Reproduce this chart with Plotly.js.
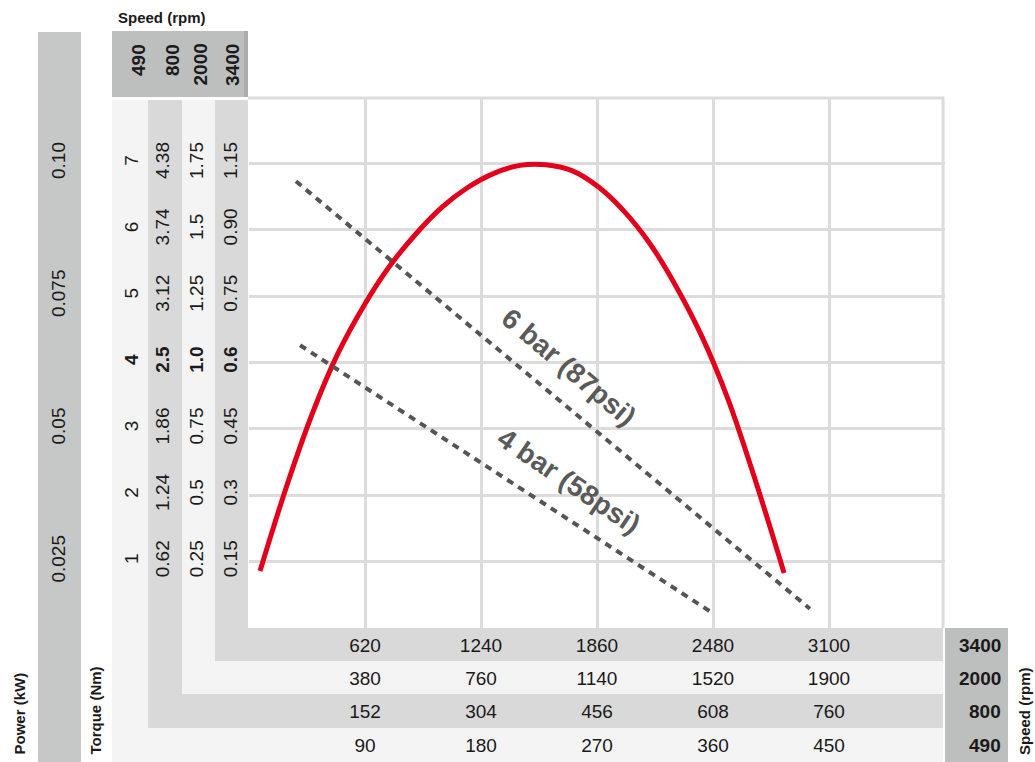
<!DOCTYPE html>
<html><head><meta charset="utf-8">
<script src="https://cdn.plot.ly/plotly-3.0.1.min.js"></script>
<style>html,body{margin:0;padding:0;background:#fff}#chart{width:1035px;height:762px}</style>
</head><body><div id="chart"></div>
<script>
// ---- data ----
const xTickVals = [620, 1240, 1860, 2480, 3100];
const row3400 = ['620', '1240', '1860', '2480', '3100'];
const row2000 = ['380', '760', '1140', '1520', '1900'];
const row800 = ['152', '304', '456', '608', '760'];
const row490 = ['90', '180', '270', '360', '450'];
const yTickVals = [1, 2, 3, 4, 5, 6, 7];
const col490 = ['1', '2', '3', '<b>4</b>', '5', '6', '7'];
const col800 = ['0.62', '1.24', '1.86', '<b>2.5</b>', '3.12', '3.74', '4.38'];
const col2000 = ['0.25', '0.5', '0.75', '<b>1.0</b>', '1.25', '1.5', '1.75'];
const col3400 = ['0.15', '0.3', '0.45', '<b>0.6</b>', '0.75', '0.90', '1.15'];
const powerTickVals = [1, 3, 5, 7];
const powerLabels = ['0.025', '0.05', '0.075', '0.10'];
const speeds = ['490', '800', '2000', '3400'];
const curveX = [59, 198, 337, 476, 615, 754, 893, 1032, 1171, 1309, 1448,
                1587, 1726, 1865, 2004, 2143, 2282, 2421, 2560, 2699, 2860];
const curveY = [0.86, 2.11, 3.22, 4.14, 4.86, 5.46, 5.94, 6.34, 6.64, 6.85, 6.97,
                6.98, 6.89, 6.65, 6.28, 5.79, 5.15, 4.39, 3.45, 2.29, 0.83];
const bar6X = [251, 2998];
const bar6Y = [6.73, 0.29];
const bar4X = [273, 2475];
const bar4Y = [4.26, 0.23];
const bar6Label = '6 bar (87psi)';
const bar4Label = '4 bar (58psi)';

// ---- layout helpers ----
const W = 1035, H = 762;
const px = v => v / W;
const py = v => 1 - v / H;
const FONT = 'Arial, "Liberation Sans", Helvetica, sans-serif';
const TXT = '#1a1a1a';
const LIGHT = '#f4f4f4', MID = '#d9d9d9', DARK = '#bdbebe', GRID = '#dcdcdc';

function rect(x0, y0, x1, y1, color) {
  return {type: 'rect', xref: 'paper', yref: 'paper', x0: px(x0), x1: px(x1), y0: py(y1), y1: py(y0),
          fillcolor: color, line: {width: 0}, layer: 'below'};
}
function hline(x0, x1, y, color, w) {
  return {type: 'line', xref: 'paper', yref: 'paper', x0: px(x0), x1: px(x1), y0: py(y), y1: py(y),
          line: {color: color, width: w}, layer: 'below'};
}
function vline(x, y0, y1, color, w) {
  return {type: 'line', xref: 'paper', yref: 'paper', x0: px(x), x1: px(x), y0: py(y0), y1: py(y1),
          line: {color: color, width: w}, layer: 'below'};
}

const xDomain = [px(249), px(945)];
const yDomain = [py(628), py(97)];
const xRange = [0, 3720];
const yRange = [0, 8];
const tickFont = {family: FONT, size: 19, color: TXT};

function xAx(ticktext, extra) {
  return Object.assign({domain: xDomain, range: xRange, tickvals: xTickVals, ticktext: ticktext,
    ticks: '', showline: false, zeroline: false, showgrid: false, tickfont: tickFont,
    ticklabelstandoff: 4, fixedrange: true}, extra);
}
function yAx(vals, ticktext, pos, extra) {
  return Object.assign({domain: yDomain, range: yRange, tickvals: vals, ticktext: ticktext,
    ticks: '', showline: false, zeroline: false, showgrid: false, tickfont: tickFont, tickangle: -90,
    anchor: 'free', position: px(pos), side: 'left', fixedrange: true}, extra);
}

const lineTrace = (x, y, xa, ya, line) => ({x: x, y: y, type: 'scatter', mode: 'lines', xaxis: xa, yaxis: ya,
  line: line, hoverinfo: 'skip', showlegend: false});
const dash = {color: '#555555', width: 4, dash: '7px,6px'};

const traces = [
  lineTrace(curveX, curveY, 'x', 'y', {color: '#e2001a', width: 5, shape: 'spline', smoothing: 1}),
  lineTrace(bar6X, bar6Y, 'x2', 'y2', dash),
  lineTrace(bar4X, bar4Y, 'x3', 'y3', dash),
  // empty traces so the extra scale axes are created
  lineTrace([], [], 'x4', 'y4', dash),
  lineTrace([], [], 'x', 'y5', dash)
];

const shapes = [
  rect(38, 32, 81, 762, '#c6c7c7'),
  rect(112, 31, 245, 97, DARK),
  rect(244, 31, 248, 97, '#aaabab'),
  rect(112, 100, 943, 762, LIGHT),
  rect(148, 100, 943, 728, MID),
  rect(182, 100, 943, 694, LIGHT),
  rect(215, 100, 943, 661, MID),
  rect(248, 97, 943, 628, '#ffffff'),
  rect(945, 628, 1008, 762, DARK),
  hline(248, 944, 98, GRID, 3),
  vline(943, 97, 628, GRID, 3)
];

const annotations = [];
const headerX = [138, 172, 199.5, 232];
speeds.forEach((s, i) => annotations.push({xref: 'paper', yref: 'paper', x: px(headerX[i]), y: py(42),
  text: '<b>' + s + '</b>', showarrow: false, textangle: -90, xanchor: 'center', yanchor: 'top',
  font: {family: FONT, size: 19, color: TXT}}));
const rowY = [745, 711, 678, 645];
speeds.forEach((s, i) => annotations.push({xref: 'paper', yref: 'paper', x: px(1003), y: py(rowY[i]),
  text: '<b>' + s + '</b>', showarrow: false, xanchor: 'right', yanchor: 'middle',
  font: {family: FONT, size: 19, color: TXT}}));
annotations.push({xref: 'paper', yref: 'paper', x: px(116), y: py(17), text: '<b>Speed (rpm)</b>',
  showarrow: false, xanchor: 'left', yanchor: 'middle', font: {family: FONT, size: 15, color: TXT}});
[['Power (kW)', 18.5], ['Torque (Nm)', 94.5], ['Speed (rpm)', 1024]].forEach(t => annotations.push({
  xref: 'paper', yref: 'paper', x: px(t[1]), y: py(757), text: '<b>' + t[0] + '</b>', showarrow: false,
  textangle: -90, xanchor: 'center', yanchor: 'bottom', font: {family: FONT, size: 15, color: TXT}}));
annotations.push({xref: 'x', yref: 'y', x: 1710, y: 3.92, text: '<b>' + bar6Label + '</b>', showarrow: false,
  textangle: 40, font: {family: FONT, size: 28, color: '#5a5a5a'}});
annotations.push({xref: 'x', yref: 'y', x: 1710, y: 2.2, text: '<b>' + bar4Label + '</b>', showarrow: false,
  textangle: 34, font: {family: FONT, size: 28, color: '#5a5a5a'}});

const layout = {
  width: W, height: H,
  margin: {l: 0, r: 0, t: 0, b: 0, pad: 0},
  paper_bgcolor: '#ffffff', plot_bgcolor: 'rgba(0,0,0,0)',
  showlegend: false,
  font: {family: FONT, color: TXT},
  xaxis: xAx(row3400, {anchor: 'y', showgrid: true, gridcolor: GRID, gridwidth: 3}),
  xaxis2: xAx(row2000, {overlaying: 'x', anchor: 'free', position: py(661)}),
  xaxis3: xAx(row800, {overlaying: 'x', anchor: 'free', position: py(694)}),
  xaxis4: xAx(row490, {overlaying: 'x', anchor: 'free', position: py(728)}),
  yaxis: yAx(yTickVals, col490, 142, {showgrid: true, gridcolor: GRID, gridwidth: 3}),
  yaxis2: yAx(yTickVals, col800, 173, {overlaying: 'y'}),
  yaxis3: yAx(yTickVals, col2000, 207, {overlaying: 'y'}),
  yaxis4: yAx(yTickVals, col3400, 240.5, {overlaying: 'y'}),
  yaxis5: yAx(powerTickVals, powerLabels, 68.5, {overlaying: 'y'}),
  shapes: shapes,
  annotations: annotations
};

Plotly.newPlot('chart', traces, layout, {displayModeBar: false, staticPlot: true});
</script>
</body></html>
